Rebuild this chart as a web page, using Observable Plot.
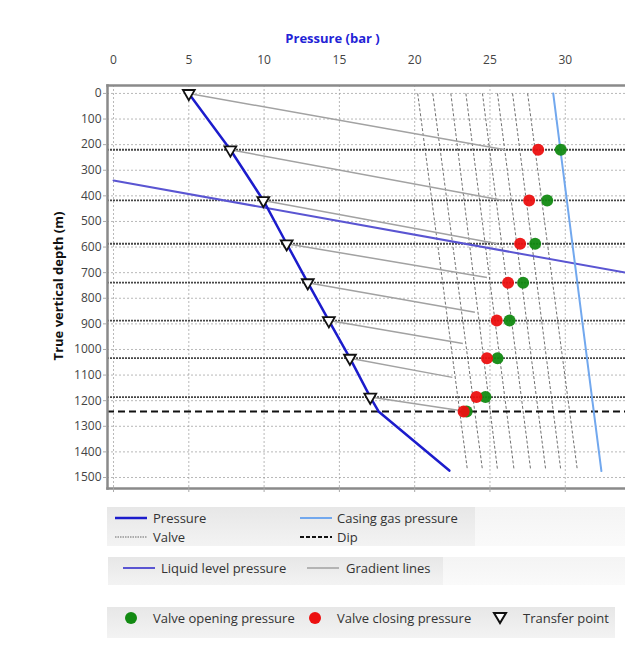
<!DOCTYPE html>
<html><head><meta charset="utf-8">
<script src="https://cdn.jsdelivr.net/npm/d3@7"></script>
<script src="https://cdn.jsdelivr.net/npm/@observablehq/plot@0.6"></script>
<style>
body{margin:0;background:#fff;font-family:"Open Sans",sans-serif;}
#wrap{position:relative;width:625px;height:646px;overflow:hidden;}
.box{position:absolute;background:linear-gradient(#e7e7e7,#f3f3f3);}
.ext{position:absolute;background:linear-gradient(#f4f4f4,#fafafa);}
.lbl{position:absolute;font-size:13px;color:#333;line-height:18px;white-space:nowrap;}
.sw{position:absolute;overflow:visible;}
</style></head><body><div id="wrap"></div>
<script>
// ---- data ----
const xTicks = [0, 5, 10, 15, 20, 25, 30];
const yTicks = [0, 100, 200, 300, 400, 500, 600, 700, 800, 900, 1000, 1100, 1200, 1300, 1400, 1500];
const valveDepths = [220, 418, 587, 739, 887, 1034, 1186];
const dipDepth = [1242];
const transferPressure = [5.0, 7.76, 9.95, 11.5, 12.9, 14.3, 15.7, 17.05];
const transferDepth = [0, 220, 418, 587, 739, 887, 1034, 1186];
const pressureLineP = [5.0, 7.76, 9.95, 11.5, 12.9, 14.3, 15.7, 17.05, 17.6, 22.3];
const pressureLineD = [0, 220, 418, 587, 739, 887, 1034, 1186, 1242, 1473];
const casingP = [29.2, 31.8, 32.4];
const casingD = [0, 1200, 1475];
const liquidP = [0, 34];
const liquidD = [340, 700];
const gradEndP = [26.0, 25.9, 25.5, 24.8, 24.0, 23.2, 22.5, 23.0];
const gradEndD = [220, 418, 587, 719, 855, 977, 1109, 1238];
const valveCurveTopP = [20.2, 21.2, 22.4, 23.4, 24.5, 25.5, 26.5, 27.5];
const valveCurveBottomP = [23.5, 24.5, 25.5, 26.6, 27.7, 28.7, 29.7, 30.8];
const valveCurveD = [0, 1470];
const dotDepths = [220, 418, 587, 739, 887, 1034, 1186, 1242];
const openingP = [29.7, 28.8, 28.0, 27.2, 26.3, 25.5, 24.7, 23.45];
const closingP = [28.2, 27.6, 27.0, 26.2, 25.45, 24.8, 24.1, 23.25];

// ---- tables ----
const pressureRows = pressureLineP.map((p, i) => ({p, d: pressureLineD[i]}));
const casingRows = casingP.map((p, i) => ({p, d: casingD[i]}));
const liquidRows = liquidP.map((p, i) => ({p, d: liquidD[i]}));
const transferRows = transferPressure.map((p, i) => ({p, d: transferDepth[i]}));
const gradRows = transferPressure.map((p, i) => ({p1: p, d1: transferDepth[i], p2: gradEndP[i], d2: gradEndD[i]}));
const curveRows = valveCurveTopP.map((p, i) => ({p1: p, d1: valveCurveD[0], p2: valveCurveBottomP[i], d2: valveCurveD[1]}));
const openRows = openingP.map((p, i) => ({p, d: dotDepths[i]}));
const closeRows = closingP.map((p, i) => ({p, d: dotDepths[i]}));

const chart = Plot.plot({
  width: 625, height: 495,
  marginLeft: 107, marginTop: 85, marginRight: 0, marginBottom: 7,
  x: {domain: [-0.4, 34]},
  y: {domain: [-31, 1543], reverse: true},
  style: {fontFamily: "Open Sans", fontSize: "12px", background: "transparent", overflow: "visible"},
  marks: [
    Plot.gridX({ticks: xTicks, stroke: "#9a9a9a", strokeOpacity: 0.7, strokeDasharray: "2,2"}),
    Plot.gridY({ticks: yTicks, stroke: "#9a9a9a", strokeOpacity: 0.7, strokeDasharray: "2,2"}),
    Plot.link(curveRows, {x1: "p1", y1: "d1", x2: "p2", y2: "d2", stroke: "#707070", strokeWidth: 1, strokeDasharray: "3,2"}),
    Plot.ruleY(valveDepths, {stroke: "#474747", strokeWidth: 1.8, strokeDasharray: "2,1"}),
    Plot.ruleY(dipDepth, {stroke: "#111", strokeWidth: 2, strokeDasharray: "7,4"}),
    Plot.link(gradRows, {x1: "p1", y1: "d1", x2: "p2", y2: "d2", stroke: "#a2a2a2", strokeWidth: 1.5}),
    Plot.line(liquidRows, {x: "p", y: "d", stroke: "#5a55d2", strokeWidth: 2, clip: true}),
    Plot.line(casingRows, {x: "p", y: "d", stroke: "#72a8ee", strokeWidth: 2}),
    Plot.line(pressureRows, {x: "p", y: "d", stroke: "#1c1ccc", strokeWidth: 2.5}),
    Plot.dot(openRows, {x: "p", y: "d", r: 6, fill: "#128a12", fillOpacity: 0.95}),
    Plot.dot(closeRows, {x: "p", y: "d", r: 6, fill: "#ec1010", fillOpacity: 0.95}),
    Plot.dot(transferRows, {x: "p", y: "d", symbol: "triangle", rotate: 180, r: 4.4, fill: "white", stroke: "#111", strokeWidth: 1.8}),
    Plot.frame({anchor: "left", stroke: "#8a8a8a", strokeWidth: 2.5}),
    Plot.frame({anchor: "top", stroke: "#8a8a8a", strokeWidth: 2.5}),
    Plot.frame({anchor: "bottom", stroke: "#8a8a8a", strokeWidth: 2.5}),
    Plot.axisX({anchor: "top", ticks: xTicks, tickSize: 0, tickPadding: 22, label: null, fill: "#444"}),
    Plot.axisX({anchor: "bottom", ticks: xTicks, tickSize: 4, tickFormat: () => "", label: null, stroke: "#aaa"}),
    Plot.axisY({anchor: "left", ticks: yTicks, tickSize: 4, tickPadding: 2, tickFormat: d3.format("d"), label: null, fill: "#444", stroke: "#aaa"}),
    Plot.text(["Pressure (bar )"], {frameAnchor: "top", textAnchor: "middle", lineAnchor: "middle", dx: -34, dy: -47, fill: "#2323d6", fontWeight: "bold", fontSize: 13}),
    Plot.text(["True vertical depth (m)"], {frameAnchor: "left", textAnchor: "middle", lineAnchor: "middle", rotate: -90, dx: -49, dy: -1, fill: "#111", fontWeight: "bold", fontSize: 13})
  ]
});
const wrap = document.getElementById("wrap");
chart.style.position = "absolute";
chart.style.left = "0px";
chart.style.top = "0px";
wrap.appendChild(chart);

// ---- legend ----
function box(cls, l, t, w, h) {
  const d = document.createElement("div");
  d.className = cls;
  Object.assign(d.style, {left: l + "px", top: t + "px", width: w + "px", height: h + "px"});
  wrap.appendChild(d);
}
function label(text, x, y) {
  const d = document.createElement("div");
  d.className = "lbl";
  d.textContent = text;
  Object.assign(d.style, {left: x + "px", top: (y - 9) + "px"});
  wrap.appendChild(d);
}
function swatch(inner, x, y, w) {
  const ns = "http://www.w3.org/2000/svg";
  const s = document.createElementNS(ns, "svg");
  s.setAttribute("class", "sw");
  s.setAttribute("width", w);
  s.setAttribute("height", 16);
  s.style.left = x + "px";
  s.style.top = (y - 8) + "px";
  s.innerHTML = inner;
  wrap.appendChild(s);
}
const lineSw = (color, w, dash) => `<line x1="0" y1="8" x2="32" y2="8" stroke="${color}" stroke-width="${w}" ${dash ? `stroke-dasharray="${dash}"` : ""}/>`;

box("ext", 475, 507, 150, 39);
box("box", 107, 507, 368, 39);
box("ext", 443, 557, 182, 28);
box("box", 108, 557, 335, 28);
box("box", 107, 607, 508, 31);

swatch(lineSw("#1c1ccc", 2.5), 115, 518, 32); label("Pressure", 153, 518);
swatch(lineSw("#72a8ee", 2), 300, 518, 32); label("Casing gas pressure", 337, 518);
swatch(lineSw("#666", 1, "1.5,1"), 115, 537, 32); label("Valve", 153, 537);
swatch(lineSw("#111", 2, "4,2"), 300, 537, 32); label("Dip", 337, 537);
swatch(lineSw("#5a55d2", 2), 123, 568, 32); label("Liquid level pressure", 161, 568);
swatch(lineSw("#a2a2a2", 1.5), 307, 568, 32); label("Gradient lines", 346, 568);
swatch(`<circle cx="8" cy="8" r="6" fill="#128a12"/>`, 123, 618, 16); label("Valve opening pressure", 153, 618);
swatch(`<circle cx="8" cy="8" r="6" fill="#ec1010"/>`, 307, 618, 16); label("Valve closing pressure", 337, 618);
swatch(`<path d="M2,3 L14,3 L8,13 Z" fill="white" stroke="#111" stroke-width="2" stroke-linejoin="miter"/>`, 492, 618, 16); label("Transfer point", 523, 618);
</script>
</body></html>
